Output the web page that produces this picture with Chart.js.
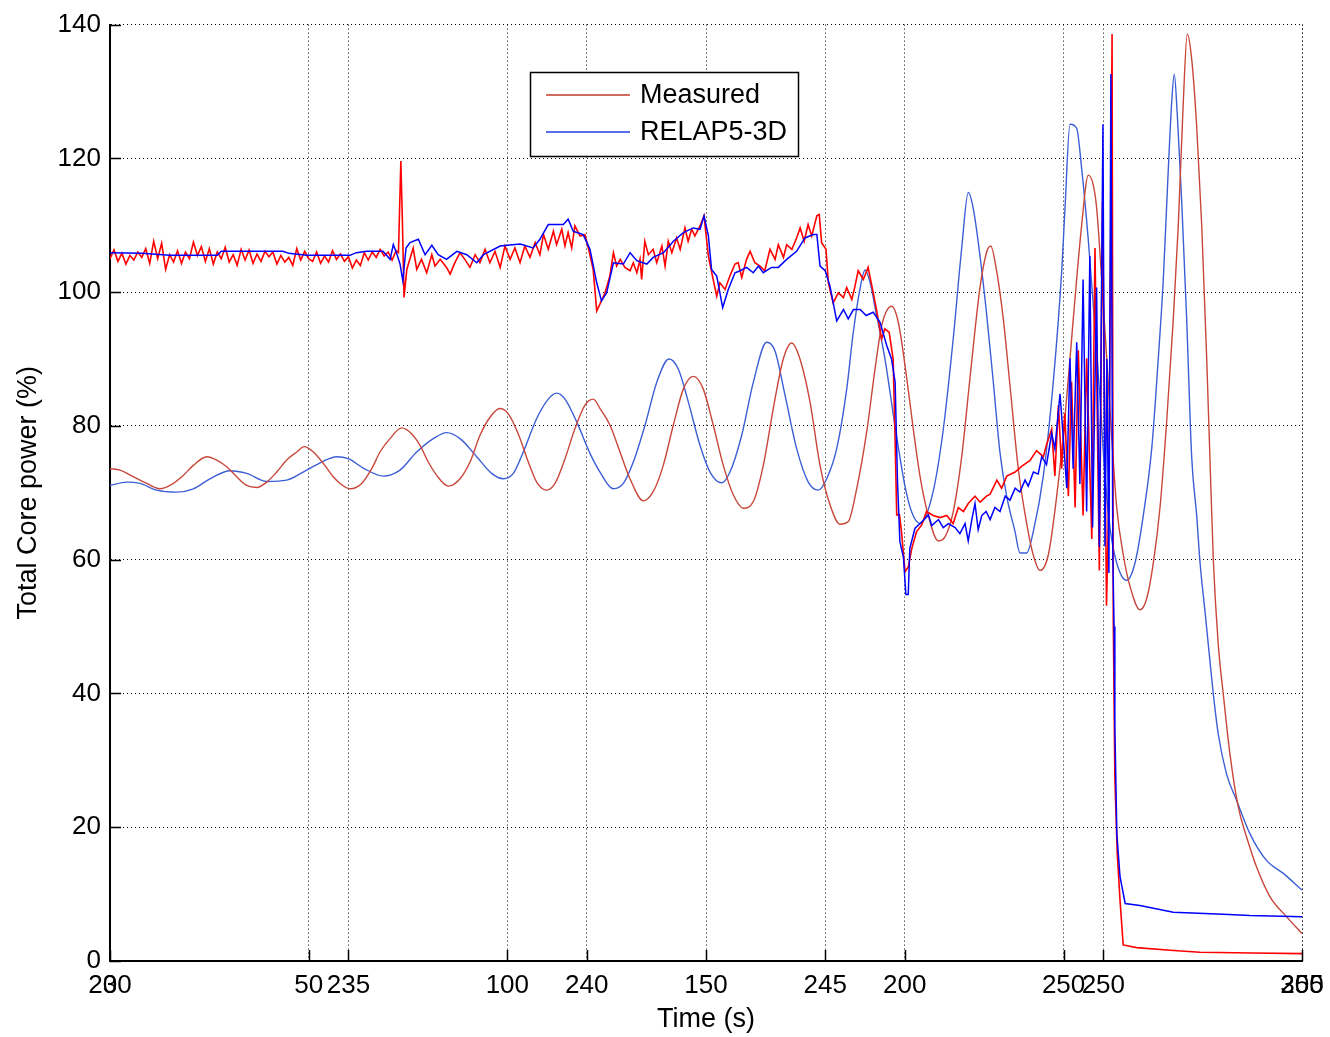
<!DOCTYPE html>
<html>
<head>
<meta charset="utf-8">
<script src="https://cdn.jsdelivr.net/npm/chart.js@4/dist/chart.umd.min.js"></script>
<style>
  html, body { margin: 0; padding: 0; background: #fff; }
  #wrap { width: 1330px; height: 1037px; }
</style>
</head>
<body>
<div id="wrap"><canvas id="c" width="1330" height="1037"></canvas></div>
<script>
// ---------- tick labels ----------
const xTicksLong = [0, 50, 100, 150, 200, 250, 300];        // Time (s), full transient
const xTicksShort = [230, 235, 240, 245, 250, 255];         // Time (s), oscillation window
const yTicks = [0, 20, 40, 60, 80, 100, 120, 140];          // Total core power (%)
const legendLabels = ['Measured', 'RELAP5-3D'];

// ---------- full transient (0-300 s) : [time, power] ----------
const measuredLong = [
[0,105.0],[1,106.3],[2,104.6],[3,105.8],[4,104.2],[5,105.5],[6,104.8],[7,106.0],[8,105.2],[9,106.5],
[10,104.3],[11,107.6],[12,105.0],[13,107.3],[14,103.4],[15,105.6],[16,104.5],[17,106.2],[18,104.3],[19,106.0],
[20,105.0],[21,107.5],[22,105.5],[23,106.8],[24,104.6],[25,106.5],[26,104.2],[27,106.0],[28,105.0],[29,106.7],
[30,104.5],[31,105.6],[32,104.0],[33,106.4],[34,104.8],[35,106.3],[36,104.3],[37,105.7],[38,104.6],[39,106.1],
[40,105.3],[41,106.0],[42,104.2],[43,105.5],[44,104.5],[45,105.2],[46,104.0],[47,106.5],[48,104.8],[49,106.1],
[50,105.0],[51,104.6],[52,106.0],[53,104.3],[54,105.4],[55,104.5],[56,106.2],[57,104.9],[58,105.7],[59,104.6],
[60,105.3],[61,103.6],[62,104.8],[63,104.0],[64,105.9],[65,104.8],[66,106.0],[67,105.2],[68,106.4],[69,105.4],
[70,106.0],[71,104.8],[72,106.2],[72.6,105.9],[73.2,119.6],[73.6,110.4],[74.0,99.2],[74.7,103.4],
[76.3,106.6],[77.2,103.4],[78.4,104.9],[79.7,102.9],[81.0,105.6],[81.8,103.9],[83.1,104.9],[84.7,103.7],
[85.6,102.7],[86.8,104.4],[88.1,105.9],[89.3,104.9],[90.6,103.7],[91.9,105.6],[93.1,104.4],[94.4,106.4],
[95.6,104.4],[96.9,106.1],[98.2,103.7],[99.4,106.9],[100.7,104.9],[101.9,106.6],[103.2,104.4],[104.4,106.9],
[105.7,105.2],[107.0,107.4],[108.2,105.6],[109.1,108.6],[110.3,106.4],[111.6,109.1],[112.4,107.1],[113.7,109.4],
[114.5,106.9],[115.3,108.9],[116.2,106.6],[117.0,109.9],[118.3,108.4],[119.5,108.6],[120.4,106.6],[121.6,103.4],
[122.5,97.2],[123.3,98.2],[124.6,99.9],[125.8,102.4],[126.7,105.9],[127.5,103.9],[128.4,104.9],[129.6,103.7],
[130.9,103.2],[131.7,104.4],[132.6,102.9],[133.4,104.9],[133.8,101.9],[134.6,107.6],[135.5,105.6],[136.7,106.4],
[137.6,104.4],[138.9,106.9],[139.7,103.9],[140.5,107.6],[141.4,105.9],[142.6,108.1],[143.5,106.4],[144.7,109.6],
[145.5,107.6],[146.4,109.4],[147.2,108.4],[148.5,109.9],[149.5,111.4],[150.6,105.4],[151.8,101.9],[152.7,99.4],
[153.5,101.4],[154.8,100.4],[156.0,102.4],[157.3,104.2],[158.1,104.4],[159.0,102.2],[160.2,104.9],[161.1,106.1],
[162.3,104.4],[163.6,103.9],[164.8,103.2],[166.1,106.4],[167.4,104.9],[168.2,107.1],[169.5,105.2],[170.3,107.1],
[171.6,106.4],[172.8,108.1],[173.7,109.6],[174.7,107.6],[175.7,110.1],[176.6,108.4],[177.9,111.4],[178.5,111.6],
[179.1,107.4],[180.2,106.4],[180.8,101.4],[182.0,98.4],[183.3,99.9],[184.6,99.2],[185.4,100.7],[186.7,98.9],
[187.5,100.9],[188.3,103.2],[189.6,101.9],[190.8,103.7],[192.1,99.9],[192.9,97.4],[194.2,93.0],[195.0,94.5],
[196.1,94.0],[197.1,90.0],[197.6,77.6],[198.0,66.7],[198.7,66.7],[199.2,64.2],[200.1,58.2],[200.9,58.9],
[201.8,61.7],[203.0,64.2],[204.3,65.2],[205.5,67.2],[207.2,66.6],[208.9,66.3],[210.6,66.6],[212.2,65.4],
[213.5,67.8],[214.8,67.2],[216.0,68.4],[217.7,69.5],[219.0,68.6],[220.6,69.5],[221.5,69.8],[223.2,71.9],
[224.4,70.7],[225.7,72.5],[227.8,73.1],[229.5,74.0],[231.5,74.8],[233.2,76.3],[234.9,75.4],[235.7,77.2],
[237.0,79.5],[237.8,72.5],[238.7,83.1],[239.5,73.6],[240.3,81.9],[241.2,69.5],[242.0,86.6],[242.9,67.8],
[243.7,91.3],[244.9,66.6],[245.8,90.1],[247.1,63.1],[247.9,106.6],[249.0,58.4],[249.8,113.6],[250.8,53.1],
[251.4,70.0],[252.2,138.6],[252.5,51.3],[252.9,27.4],[253.5,16.1],[254.2,9.1],[255.0,2.4],[258.4,2.0],
[266.8,1.6],[274.3,1.3],[287.7,1.2],[300,1.1]
];
const relapLong = [
[0,105.9],[8,105.8],[15,105.5],[27,105.5],[28,106.1],[43.5,106.1],[45,105.8],[49.5,105.5],[60.4,105.5],[62,105.9],
[64.6,106.1],[68.7,106.1],[70.5,104.9],[71.3,107.1],[72.1,105.9],[73.0,104.2],[73.7,101.7],[74.5,106.6],[75.5,107.4],
[77.6,107.9],[79.3,105.6],[81.0,107.0],[82.6,105.6],[84.7,104.9],[87.3,106.1],[89.8,105.6],[92.3,104.4],[94.0,105.6],
[98.2,106.9],[103.2,107.2],[106.5,106.6],[108.2,107.9],[110.3,110.1],[114.1,110.1],[115.3,110.9],[116.6,109.1],
[119.1,108.6],[120.8,106.4],[122.5,101.4],[123.7,98.7],[125.0,99.9],[126.7,104.4],[129.2,104.2],[130.9,105.9],
[132.6,104.7],[135.1,104.2],[136.7,105.2],[139.3,105.9],[141.8,107.6],[144.3,108.9],[146.8,109.6],[148.5,109.4],
[149.5,111.4],[150.6,108.4],[151.4,103.4],[152.7,102.4],[154.2,97.7],[155.6,100.4],[157.3,102.9],[158.6,103.2],
[160.2,103.7],[161.9,102.9],[163.2,103.9],[164.4,102.9],[166.5,103.7],[168.2,103.7],[170.3,104.9],[172.8,106.1],
[174.9,108.1],[177.0,108.6],[177.9,108.6],[178.7,103.9],[180.0,103.2],[181.2,100.9],[182.9,95.7],[184.6,97.4],
[185.8,96.0],[187.1,97.4],[188.8,97.4],[190.3,96.5],[192.1,97.0],[193.8,95.5],[195.5,92.0],[196.7,90.0],
[197.6,86.5],[198.2,71.6],[198.8,62.7],[199.7,60.3],[200.3,54.8],[200.9,54.8],[201.3,61.7],[202.6,64.7],
[203.9,65.4],[206.0,66.7],[206.8,65.1],[208.5,66.0],[209.7,64.8],[211.0,65.4],[212.7,64.8],[213.9,63.9],
[215.2,65.4],[216.0,62.8],[216.9,66.0],[217.7,68.4],[218.5,64.5],[219.4,66.6],[220.5,67.2],[221.5,66.0],
[222.7,67.8],[224.0,67.2],[225.3,69.5],[226.5,68.9],[227.8,70.7],[229.0,70.1],[230.3,71.9],[231.1,71.0],
[232.4,73.1],[233.6,72.8],[234.5,75.4],[235.7,74.2],[237.0,78.9],[237.8,76.6],[239.1,84.8],[239.9,78.4],
[240.8,70.7],[241.6,90.1],[242.4,73.6],[243.3,92.5],[244.1,71.3],[244.9,101.9],[245.8,67.2],[246.6,105.4],
[247.3,64.8],[248.3,100.7],[249.0,61.9],[249.9,125.1],[250.4,62.0],[250.9,90.0],[251.4,58.0],[251.9,132.6],
[252.4,60.0],[252.7,50.0],[252.9,34.9],[253.4,19.0],[254.2,12.6],[255.5,8.6],[259.2,8.3],[267.6,7.3],
[280.2,7.0],[286.9,6.8],[300,6.6]
];

// ---------- oscillation window (230-255 s) : [time, power] ----------
const measuredShort = [
[230.000,73.6],[230.210,73.4],[230.489,72.4],[230.770,71.4],[231.049,70.6],[231.258,71.1],[231.537,72.6],[231.747,74.1],
[232.028,75.4],[232.238,74.9],[232.448,73.9],[232.657,72.4],[232.867,71.1],[233.077,70.8],[233.287,71.6],[233.496,73.1],
[233.706,74.9],[233.916,76.1],[234.075,76.9],[234.264,76.1],[234.474,74.4],[234.683,72.4],[234.824,71.4],[235.034,70.6],
[235.279,71.4],[235.489,73.6],[235.663,76.1],[235.872,78.1],[236.118,79.7],[236.328,78.8],[236.502,77.1],[236.676,74.6],
[236.852,72.6],[237.095,71.0],[237.341,72.1],[237.550,74.6],[237.760,78.6],[237.970,81.3],[238.179,82.6],[238.354,81.8],
[238.563,78.8],[238.773,74.6],[238.949,71.6],[239.159,70.4],[239.333,71.4],[239.543,75.1],[239.752,79.6],[239.962,83.1],
[240.136,84.0],[240.277,82.6],[240.487,80.1],[240.696,76.1],[240.906,72.1],[241.185,68.8],[241.395,70.2],[241.604,74.1],
[241.814,80.1],[242.024,85.5],[242.234,87.4],[242.443,85.5],[242.653,80.1],[242.863,74.1],[243.072,69.7],[243.282,67.7],
[243.492,68.7],[243.702,74.1],[243.911,82.6],[244.121,90.0],[244.297,92.4],[244.471,90.0],[244.681,83.6],[244.891,74.1],
[245.101,68.2],[245.310,65.3],[245.484,65.7],[245.660,70.6],[245.870,79.1],[246.045,88.5],[246.185,95.0],[246.395,97.9],
[246.533,95.5],[246.709,87.2],[246.848,79.5],[246.988,72.5],[247.162,66.6],[247.372,62.8],[247.512,63.4],[247.686,67.2],
[247.863,75.4],[248.037,87.2],[248.247,100.7],[248.387,106.0],[248.471,106.9],[248.597,103.1],[248.735,96.0],[248.876,86.0],
[249.050,73.6],[249.226,65.4],[249.364,60.7],[249.505,58.4],[249.679,60.7],[249.855,69.5],[250.029,81.3],[250.203,96.0],
[250.380,110.1],[250.518,117.5],[250.623,116.0],[250.694,112.5],[250.799,101.9],[250.904,90.1],[251.009,78.4],[251.114,67.8],
[251.252,60.7],[251.393,56.0],[251.602,52.5],[251.743,54.2],[251.881,59.5],[252.022,67.8],[252.162,80.7],[252.301,96.0],
[252.406,110.1],[252.510,128.4],[252.594,138.6],[252.687,134.8],[252.791,124.8],[252.896,110.1],[253.001,90.1],[253.070,75.0],
[253.140,60.0],[253.244,47.3],[253.349,39.9],[253.490,30.9],[253.664,23.0],[253.840,18.5],[254.050,14.0],[254.329,9.6],
[254.679,6.6],[255.000,4.1]
];
const relapShort = [
[230.000,71.1],[230.350,71.6],[230.629,71.4],[230.979,70.4],[231.399,70.1],[231.747,70.6],[232.097,72.1],[232.517,73.3],
[232.867,72.9],[233.287,71.7],[233.706,71.9],[234.125,73.4],[234.440,74.6],[234.755,75.4],[234.998,75.1],[235.312,73.7],
[235.732,72.5],[236.082,73.4],[236.432,76.1],[236.781,78.1],[237.062,79.0],[237.341,78.1],[237.691,75.4],[238.005,72.9],
[238.249,72.1],[238.459,72.9],[238.668,76.1],[238.949,81.1],[239.192,84.0],[239.369,84.9],[239.543,84.0],[239.788,80.6],
[240.067,75.9],[240.277,73.1],[240.556,70.6],[240.766,71.4],[240.975,74.6],[241.221,80.1],[241.466,86.5],[241.724,90.0],
[241.919,88.5],[242.129,83.6],[242.374,77.1],[242.584,73.1],[242.829,71.5],[243.003,73.1],[243.249,78.6],[243.492,86.5],
[243.773,92.5],[243.947,91.2],[244.157,84.6],[244.402,76.6],[244.645,71.6],[244.855,70.4],[245.031,72.1],[245.241,76.6],
[245.451,85.5],[245.589,94.0],[245.730,100.5],[245.835,103.3],[245.939,101.5],[246.065,97.0],[246.254,90.0],[246.464,80.0],
[246.673,71.0],[246.820,67.0],[246.988,65.4],[247.261,70.1],[247.477,79.5],[247.686,93.1],[247.863,106.6],[248.001,114.9],
[248.106,112.5],[248.247,105.4],[248.387,96.6],[248.525,86.6],[248.666,76.0],[248.806,69.5],[248.981,64.2],[249.085,61.0],
[249.226,61.0],[249.364,64.2],[249.574,72.5],[249.784,86.6],[249.960,103.1],[250.029,112.5],[250.134,125.1],[250.274,124.5],
[250.380,118.4],[250.518,107.8],[250.623,98.0],[250.763,84.2],[250.868,72.5],[250.973,64.8],[251.114,59.5],[251.323,56.9],
[251.497,59.5],[251.671,66.6],[251.848,76.6],[251.986,90.1],[252.091,101.9],[252.196,118.4],[252.267,128.4],[252.321,132.6],
[252.384,126.6],[252.477,113.6],[252.581,96.0],[252.686,75.4],[252.791,66.6],[252.860,59.7],[252.965,52.3],[253.070,44.8],
[253.140,39.9],[253.244,33.9],[253.420,27.9],[253.630,24.0],[253.909,19.0],[254.259,15.0],[254.608,13.1],[255.000,10.6]
];

const toPts = arr => arr.map(p => ({ x: p[0], y: p[1] }));
const FONT = "'Liberation Sans', Arial, Helvetica, sans-serif";

// inward tick marks + labels of the second (230-255 s) time axis, overprinted on the first
const tickMarks = {
  id: 'tickMarks',
  afterDraw(chart) {
    const ctx = chart.ctx;
    const { left, bottom } = chart.chartArea;
    const len = 11;
    const xs = chart.scales.x, x2 = chart.scales.x2, ys = chart.scales.y;
    ctx.save();
    ctx.strokeStyle = '#000';
    ctx.lineWidth = 1.5;
    ctx.beginPath();
    yTicks.forEach(v => {
      const y = Math.round(ys.getPixelForValue(v)) + 0.5;
      ctx.moveTo(left, y); ctx.lineTo(left + len, y);
    });
    xTicksLong.forEach(v => {
      const x = Math.round(xs.getPixelForValue(v)) + 0.5;
      ctx.moveTo(x, bottom); ctx.lineTo(x, bottom - len);
    });
    xTicksShort.forEach(v => {
      const x = Math.round(x2.getPixelForValue(v)) + 0.5;
      ctx.moveTo(x, bottom); ctx.lineTo(x, bottom - len);
    });
    ctx.stroke();
    ctx.fillStyle = '#000';
    ctx.font = '26px ' + FONT;
    ctx.textAlign = 'center';
    ctx.textBaseline = 'middle';
    xTicksShort.forEach(v => {
      ctx.fillText(String(v), x2.getPixelForValue(v), xs.top + 9 + 15.6);
    });
    ctx.restore();
  }
};

const boxLegend = {
  id: 'boxLegend',
  afterDraw(chart) {
    const ctx = chart.ctx;
    const bx = 530, by = 72, bw = 268, bh = 84;
    ctx.save();
    ctx.fillStyle = '#fff';
    ctx.fillRect(bx, by, bw, bh);
    ctx.strokeStyle = '#000';
    ctx.lineWidth = 1.5;
    ctx.strokeRect(bx + 0.5, by + 0.5, bw, bh);
    const colors = ['#c03a2b', '#1f3fe0'];
    const rows = [95, 132];
    ctx.font = '27px ' + FONT;
    ctx.textBaseline = 'middle';
    ctx.textAlign = 'left';
    legendLabels.forEach((lab, i) => {
      ctx.strokeStyle = colors[i];
      ctx.lineWidth = 1.5;
      ctx.beginPath();
      ctx.moveTo(546, rows[i]); ctx.lineTo(630, rows[i]);
      ctx.stroke();
      ctx.fillStyle = '#000';
      ctx.fillText(lab, 640, rows[i] + 1);
    });
    ctx.restore();
  }
};

const gridCommon = { color: '#000', lineWidth: 1, drawTicks: false };
const noSidePad = s => { s.paddingLeft = 0; s.paddingRight = 0; };

new Chart(document.getElementById('c'), {
  type: 'line',
  data: {
    datasets: [
      { label: 'RELAP5-3D', data: toPts(relapLong), xAxisID: 'x', borderColor: '#0000ff', borderWidth: 1.5, pointRadius: 0, tension: 0 },
      { label: 'Measured', data: toPts(measuredLong), xAxisID: 'x', borderColor: '#ff0000', borderWidth: 1.6, pointRadius: 0, tension: 0 },
      { label: 'Measured (230-255 s)', data: toPts(measuredShort), xAxisID: 'x2', borderColor: '#c8473a', borderWidth: 1.4, pointRadius: 0, cubicInterpolationMode: 'monotone' },
      { label: 'RELAP5-3D (230-255 s)', data: toPts(relapShort), xAxisID: 'x2', borderColor: '#3c5fd6', borderWidth: 1.4, pointRadius: 0, cubicInterpolationMode: 'monotone' }
    ]
  },
  options: {
    responsive: false,
    devicePixelRatio: 1,
    animation: false,
    layout: { padding: { left: 0, right: 28, top: 21, bottom: 0 } },
    plugins: { legend: { display: false }, tooltip: { enabled: false } },
    scales: {
      x2: {
        type: 'linear', position: 'bottom', weight: -1,
        min: 230, max: 255,
        afterBuildTicks: s => { s.ticks = xTicksShort.map(v => ({ value: v })); },
        afterFit: s => { s.height = 0; noSidePad(s); },
        ticks: { display: false },
        grid: gridCommon,
        border: { display: false, dash: [1, 3] }
      },
      x: {
        type: 'linear', position: 'bottom', weight: 0,
        min: 0, max: 300,
        afterBuildTicks: s => { s.ticks = xTicksLong.map(v => ({ value: v })); },
        afterFit: s => { s.height = 76; noSidePad(s); },
        ticks: { autoSkip: false, maxRotation: 0, padding: 9, color: '#000', font: { family: FONT, size: 26 } },
        grid: gridCommon,
        border: { display: true, color: '#000', width: 2, dash: [1, 3] },
        title: { display: true, text: 'Time (s)', color: '#000', font: { family: FONT, size: 27 }, padding: { top: 0, bottom: 1 } }
      },
      y: {
        type: 'linear', position: 'left',
        min: 0, max: 140,
        afterBuildTicks: s => { s.ticks = yTicks.map(v => ({ value: v })); },
        afterFit: s => { s.width = 110; },
        ticks: { padding: 9, color: '#000', font: { family: FONT, size: 26 } },
        grid: gridCommon,
        border: { display: true, color: '#000', width: 2, dash: [1, 3] },
        title: { display: true, text: 'Total Core power (%)', color: '#000', font: { family: FONT, size: 27 }, padding: { top: 12, bottom: 0 } }
      }
    }
  },
  plugins: [tickMarks, boxLegend]
});
</script>
</body>
</html>
